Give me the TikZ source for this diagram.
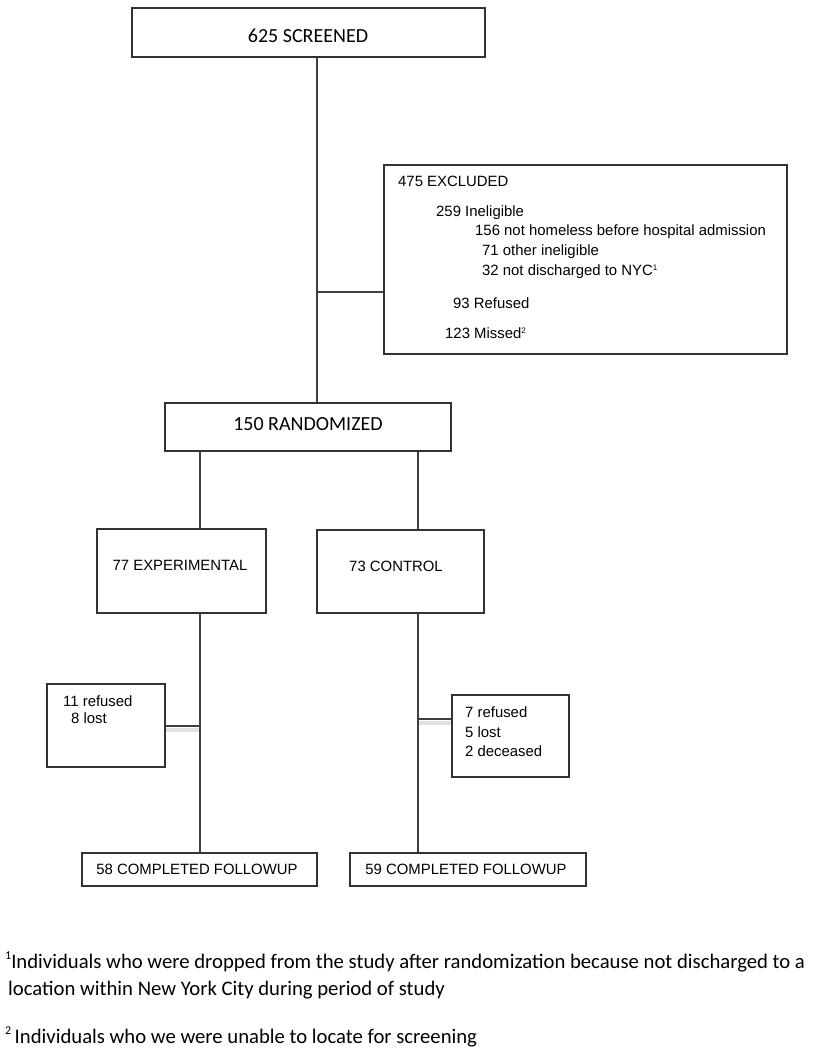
\documentclass[tikz,border=0pt]{standalone}
\usepackage{fontspec}
\setmainfont{Liberation Sans}
\newfontfamily\calfont{Carlito}
\begin{document}
\begin{tikzpicture}[x=1pt,y=-1pt,
  box/.style={draw=black!80,line width=1.1pt,inner sep=0pt,fill=white},
  conn/.style={draw=black!75,line width=1.1pt},
  bigtxt/.style={font=\calfont\fontsize{20}{24}\selectfont,inner sep=0pt},
  txt/.style={font=\fontsize{14.9}{17}\selectfont,inner sep=0pt},
  ltxt/.style={txt,anchor=west},
  foot/.style={font=\calfont\fontsize{20.7}{24}\selectfont,inner sep=0pt,anchor=west},
  shade/.style={fill=black!12,draw=none}]
\useasboundingbox (0,0) rectangle (816,1050);
\fill[white] (0,0) rectangle (816,1050);

% junction coordinates
\coordinate (j1) at (317,292);
\coordinate (jl) at (200,726);
\coordinate (jr) at (418,719);

% boxes
\node[box,minimum width=353pt,minimum height=49pt] (scr) at (308.5,32.5) {};
\node[box,minimum width=403pt,minimum height=189pt] (excl) at (585.5,259.5) {};
\node[box,minimum width=286pt,minimum height=48pt] (rand) at (308,427) {};
\node[box,minimum width=169pt,minimum height=84pt] (exp) at (181.5,571) {};
\node[box,minimum width=167pt,minimum height=83pt] (ctrl) at (400.5,571.5) {};
\node[box,minimum width=118pt,minimum height=83pt] (lsd) at (106,725.5) {};
\node[box,minimum width=117pt,minimum height=82pt] (rsd) at (510.5,736) {};
\node[box,minimum width=235pt,minimum height=33pt] (compl) at (199.5,869.5) {};
\node[box,minimum width=236pt,minimum height=33pt] (compr) at (468,869.5) {};

% connectors
\draw[conn] (scr.south -| j1) -- (rand.north -| j1);
\draw[conn] (j1) -- (excl.west |- j1);
\draw[conn] (rand.south -| jl) -- (exp.north -| jl);
\draw[conn] (rand.south -| jr) -- (ctrl.north -| jr);
\draw[conn] (exp.south -| jl) -- (compl.north -| jl);
\draw[conn] (ctrl.south -| jr) -- (compr.north -| jr);
\fill[shade] ([yshift=-1.5pt]lsd.east |- jl) rectangle ([xshift=-1pt,yshift=-6pt]jl);
\fill[shade] ([xshift=1pt,yshift=-1.5pt]jr) rectangle ([yshift=-6pt]rsd.west |- jr);
\draw[conn] (jl) -- (lsd.east |- jl);
\draw[conn] (jr) -- (rsd.west |- jr);

% texts
\node[bigtxt] (scrt) at (308,36) {625 SCREENED};
\node[bigtxt] (randt) at (308,424) {150 RANDOMIZED};
\node[txt] (expt) at (180,565) {77 EXPERIMENTAL};
\node[txt] (ctrlt) at (396,566) {73 CONTROL};
\node[txt] (complt) at (197,869) {58 COMPLETED FOLLOWUP};
\node[txt] (comprt) at (466,869) {59 COMPLETED FOLLOWUP};

\node[ltxt] (e1) at (398,181) {475 EXCLUDED};
\node[ltxt] (e2) at (436,213) {259 Ineligible};
\node[ltxt] (e3) at (475,232) {156 not homeless before hospital admission};
\node[ltxt] (e4) at (482,252) {71 other ineligible};
\node[ltxt] (e5) at (482,272) {32 not discharged to NYC\textsuperscript{\fontsize{8}{8}\selectfont 1}};
\node[ltxt] (e6) at (453,303) {93 Refused};
\node[ltxt] (e7) at (445,333) {123 Missed\textsuperscript{\fontsize{8}{8}\selectfont 2}};

\node[ltxt] (l1) at (63,701) {11 refused};
\node[ltxt] (l2) at (71,718) {8 lost};
\node[ltxt] (r1) at (465,712) {7 refused};
\node[ltxt] (r2) at (465,732) {5 lost};
\node[ltxt] (r3) at (465,751) {2 deceased};

\node[foot] (f1) at (5,962) {\raisebox{0.45em}{\fontsize{12}{12}\selectfont 1}Individuals who were dropped from the study after randomization because not discharged to a};
\node[foot] (f2) at (8,990) {location within New York City during period of study};
\node[foot] (f3) at (5,1037) {\raisebox{0.45em}{\fontsize{12}{12}\selectfont 2}\,Individuals who we were unable to locate for screening};
\end{tikzpicture}
\end{document}
